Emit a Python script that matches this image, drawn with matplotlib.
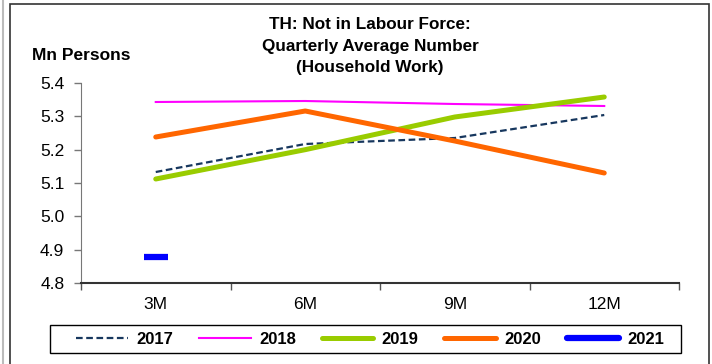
import numpy as np
import matplotlib.pyplot as plt
from matplotlib.patches import Rectangle
from matplotlib.lines import Line2D

plt.rcParams['font.family'] = ['Liberation Sans', 'DejaVu Sans']

quarters = ['3M', '6M', '9M', '12M']
y2017 = [5.133, 5.217, 5.235, 5.304]
y2018 = [5.343, 5.346, 5.337, 5.331]
y2019 = [5.112, 5.200, 5.298, 5.358]
y2020 = [5.238, 5.316, 5.226, 5.130]
y2021 = [4.877]

x = np.arange(len(quarters))

fig = plt.figure(figsize=(7.12, 3.64), dpi=100)
ax = fig.add_axes([81/712, 1 - 283/364, 598/712, 200/364])

ax.plot(x, y2017, color='#17375E', lw=1.6, ls=(0, (3, 1.6)), label='2017')
ax.plot(x, y2018, color='#FF00FF', lw=1.5, label='2018')
ax.plot(x, y2019, color='#99CC00', lw=3.6, solid_capstyle='round', label='2019')
ax.plot(x, y2020, color='#FF6600', lw=3.6, solid_capstyle='round', label='2020')
ax.plot(x[:1], y2021, color='#0000FF', ls='none', marker='_', ms=17, mew=4.5)

ax.set_xlim(-0.5, 3.5)
ax.set_ylim(4.8, 5.4)
ticks = np.arange(4.8, 5.41, 0.1)
ax.set_yticks(ticks)
ax.set_yticklabels([f'{v:.1f}' for v in ticks])
ax.set_xticks(x)
ax.set_xticklabels(quarters)
ax.set_xticks(np.arange(-0.5, 3.6, 1), minor=True)
ax.tick_params(axis='x', which='major', length=0, pad=10, labelsize=12.5)
ax.tick_params(axis='x', which='minor', length=5, width=1, color='#555555')
ax.tick_params(axis='y', length=5, width=1, color='#777777', pad=7, labelsize=12.5)

for s in ['top', 'right']:
    ax.spines[s].set_visible(False)
ax.spines['left'].set_color('#777777')
ax.spines['bottom'].set_color('#333333')
ax.spines['bottom'].set_linewidth(1.5)

fig.text(0.52, 1 - 17/364, 'TH: Not in Labour Force:\nQuarterly Average Number\n(Household Work)',
         ha='center', va='top', fontsize=12.3, fontweight='bold', linespacing=1.55)
fig.text(32/712, 1 - 55/364, 'Mn Persons', ha='left', va='center',
         fontsize=12.5, fontweight='bold')

handles, labels = ax.get_legend_handles_labels()
handles.append(Line2D([], [], color='#0000FF', lw=4.5, solid_capstyle='round'))
labels.append('2021')
leg = fig.legend(handles, labels, ncol=5, loc='center',
                 bbox_to_anchor=(370/712, 1 - 339/364),
                 frameon=False, handlelength=3.1, columnspacing=1.55,
                 prop={'weight': 'bold', 'size': 12}, borderaxespad=0,
                 handletextpad=0.5, borderpad=0)
fig.add_artist(Rectangle((50/712, 1 - 353/364), 631/712, 28/364, transform=fig.transFigure,
                         fill=False, edgecolor='black', lw=1.0))

fig.add_artist(Rectangle((10/712, -0.1), 699/712, 1.1 - 4/364, transform=fig.transFigure,
                         fill=False, edgecolor='#333333', lw=1.2))
fig.add_artist(Line2D([3/712, 3/712], [0, 1], transform=fig.transFigure,
                      color='#BBBBBB', lw=1.5))

fig.savefig('out.png', dpi=100)
